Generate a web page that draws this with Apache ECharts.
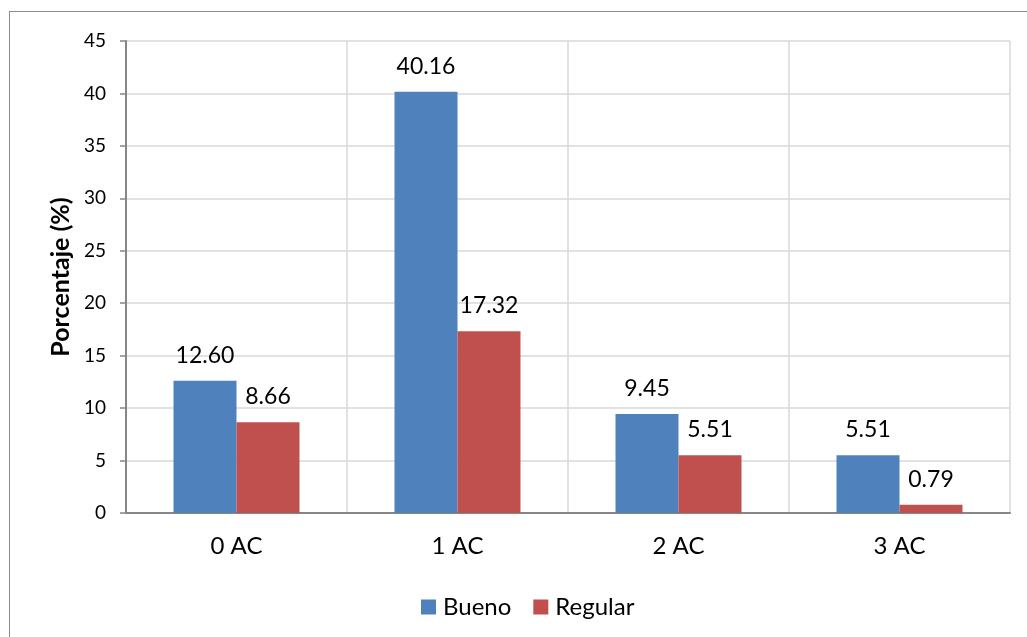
<!DOCTYPE html>
<html>
<head>
<meta charset="utf-8">
<script src="https://cdn.jsdelivr.net/npm/echarts@6/dist/echarts.min.js"></script>
<style>
html, body { margin: 0; padding: 0; background: #fff; }
#frame { position: absolute; left: 9px; top: 11px; width: 1040px; height: 660px; border: 1.5px solid #8c8c8c; box-sizing: border-box; }
#chart { position: absolute; left: 0; top: 0; width: 1027px; height: 637px; }
</style>
</head>
<body>
<div id="frame"></div>
<div id="chart"></div>
<script>
const categories = ['0 AC', '1 AC', '2 AC', '3 AC'];
const bueno = [12.60, 40.16, 9.45, 5.51];
const regular = [8.66, 17.32, 5.51, 0.79];
const yTicks = [0, 5, 10, 15, 20, 25, 30, 35, 40, 45];

const font = 'Lato, "Open Sans", sans-serif';
const chart = echarts.init(document.getElementById('chart'), null, { renderer: 'canvas' });

const labelStyle = {
  show: true,
  position: 'top',
  distance: 14,
  fontFamily: font,
  fontSize: 23,
  color: '#000',
  formatter: p => p.value.toFixed(2)
};

chart.setOption({
  animation: false,
  textStyle: { fontFamily: font },
  grid: { left: 126, right: 17, top: 41, bottom: 124, containLabel: false },
  legend: {
    top: 590,
    left: 416,
    itemWidth: 15,
    itemHeight: 15,
    itemGap: 22,
    icon: 'rect',
    textStyle: { fontFamily: font, fontSize: 24, color: '#000', padding: [0, 0, 0, 2] },
    data: ['Bueno', 'Regular']
  },
  xAxis: {
    type: 'category',
    data: categories,
    axisLine: { lineStyle: { color: '#868686', width: 2 } },
    axisTick: { show: false },
    axisLabel: { fontFamily: font, fontSize: 24, color: '#000', margin: 21 },
    splitLine: { show: true, lineStyle: { color: '#d9d9d9', width: 1.5 } }
  },
  yAxis: {
    type: 'value',
    min: yTicks[0],
    max: yTicks[yTicks.length - 1],
    interval: 5,
    name: 'Porcentaje (%)',
    nameLocation: 'middle',
    nameGap: 52,
    nameRotate: 90,
    nameTextStyle: { fontFamily: font, fontSize: 25, fontWeight: 'bold', color: '#000' },
    axisLine: { show: true, lineStyle: { color: '#868686', width: 2 } },
    axisTick: { show: true, length: 6, lineStyle: { color: '#868686', width: 1.5 } },
    axisLabel: { fontFamily: font, fontSize: 19, color: '#000', margin: 20 },
    splitLine: { show: true, lineStyle: { color: '#d9d9d9', width: 1.5 } }
  },
  series: [
    {
      name: 'Bueno',
      type: 'bar',
      data: bueno,
      barGap: '0%',
      barCategoryGap: '43%',
      itemStyle: { color: '#4F81BD' },
      label: labelStyle
    },
    {
      name: 'Regular',
      type: 'bar',
      data: regular,
      itemStyle: { color: '#C0504D' },
      label: labelStyle
    }
  ]
});
</script>
</body>
</html>
